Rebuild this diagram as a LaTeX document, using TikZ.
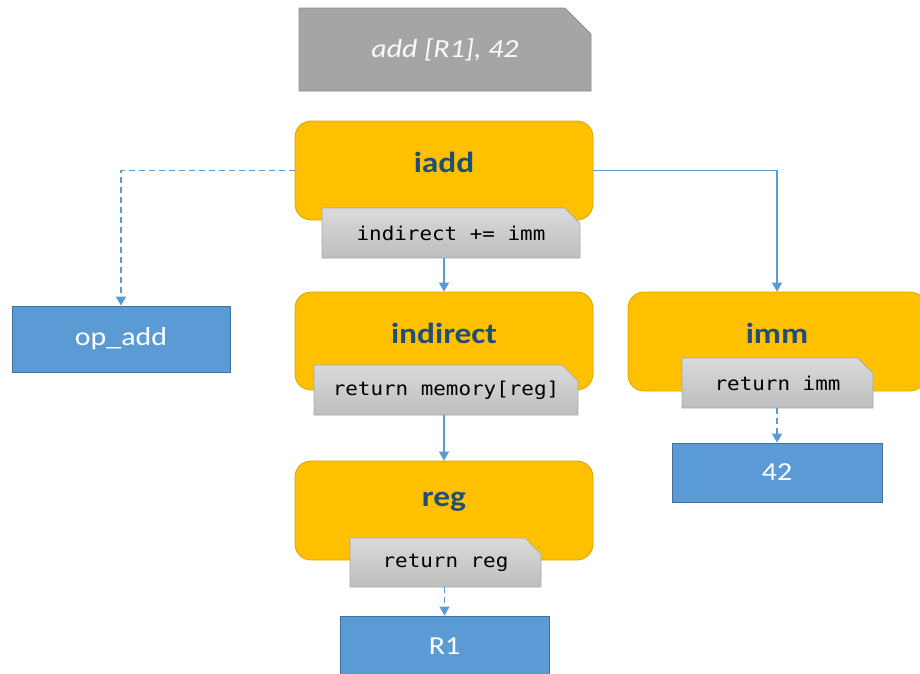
\documentclass[tikz,border=0pt]{standalone}
\usepackage{fontspec}
\setmainfont{Carlito}[FakeStretch=1.15]
\setmonofont{DejaVu Sans Mono}[FakeStretch=1.1]
\usetikzlibrary{arrows.meta,shapes.misc}

\definecolor{gold}{HTML}{FFC000}
\definecolor{goldline}{HTML}{DBA500}
\definecolor{navy}{HTML}{1F4E79}
\definecolor{sky}{HTML}{5B9BD5}
\definecolor{skyline}{HTML}{41719C}
\definecolor{tagtop}{HTML}{DADADA}
\definecolor{tagbot}{HTML}{BEBEBE}
\definecolor{tagline}{HTML}{A8A8A8}
\definecolor{instr}{HTML}{A5A5A5}
\definecolor{instrline}{HTML}{8C8C8C}

\tikzset{
  opbox/.style={rectangle, rounded corners=16pt, fill=gold, draw=goldline,
    line width=0.8pt, minimum width=298pt, inner sep=0pt},
  optitle/.style={font=\fontsize{29}{32}\selectfont\bfseries, text=navy, inner sep=0pt},
  codetag/.style={chamfered rectangle, chamfered rectangle corners=north east,
    chamfered rectangle xsep=8pt, chamfered rectangle ysep=8pt,
    top color=tagtop, bottom color=tagbot, draw=tagline, line width=0.6pt,
    minimum height=50pt, inner sep=0pt,
    font=\fontsize{19}{22}\selectfont\ttfamily, text=black},
  leaf/.style={rectangle, fill=sky, draw=skyline, line width=0.8pt, inner sep=0pt,
    font=\fontsize{26}{30}\selectfont, text=white},
  flow/.style={draw=sky, line width=1.4pt, -{Triangle[width=10pt,length=9pt]}},
  weak/.style={flow, dash pattern=on 6pt off 4pt},
}

\begin{document}
\begin{tikzpicture}[x=1pt,y=-1pt]
  \clip (0,0) rectangle (920,673);
  \useasboundingbox (0,0) rectangle (920,673);

  % instruction being decoded
  \node[chamfered rectangle, chamfered rectangle corners=north east,
    chamfered rectangle xsep=15pt, chamfered rectangle ysep=15pt,
    fill=instr, draw=instrline, line width=0.8pt, inner sep=0pt,
    minimum width=292pt, minimum height=83pt,
    font=\fontsize{26}{30}\selectfont\itshape, text=white!95!instr]
    (insn) at (445,49.5) {add [R1], 42};

  % handler boxes
  \node[opbox, minimum height=99pt] (iadd) at (444,170.5) {};
  \node[optitle] (iaddT) at (444,162) {iadd};
  \node[codetag, minimum width=258pt] (iaddC) at (451,233) {indirect += imm};

  \node[opbox, minimum height=98pt] (indirect) at (444,341) {};
  \node[optitle] (indirectT) at (444,333) {indirect};
  \node[codetag, minimum width=264pt] (indirectC) at (446,390) {return memory[reg]};

  \node[opbox, minimum height=99pt] (reg) at (444,510.5) {};
  \node[optitle] (regT) at (444,502) {reg};
  \node[codetag, minimum width=191pt, minimum height=49pt] (regC) at (445.5,562.5) {return reg};

  \node[opbox, minimum height=99pt] (imm) at (777,341.5) {};
  \node[optitle] (immT) at (777,333) {imm};
  \node[codetag, minimum width=191pt] (immC) at (777.5,383) {return imm};

  % operands and opcode
  \node[leaf, minimum width=218pt, minimum height=66pt] (opadd) at (121,339) {op\_add};
  \node[leaf, minimum width=210pt, minimum height=59pt] (n42) at (777,472.5) {42};
  \node[leaf, minimum width=209pt, minimum height=60pt] (r1) at (444.5,646) {R1};

  % connectors
  \draw[weak] (iadd.west) -| (opadd.north);
  \draw[flow] (iadd.east) -| (imm.north);
  \draw[flow] (iaddC.south -| indirect.north) -- (indirect.north);
  \draw[flow] (indirectC.south -| reg.north) -- (reg.north);
  \draw[weak] (regC.south -| r1.north) -- (r1.north);
  \draw[weak] (immC.south -| n42.north) -- (n42.north);
\end{tikzpicture}
\end{document}
